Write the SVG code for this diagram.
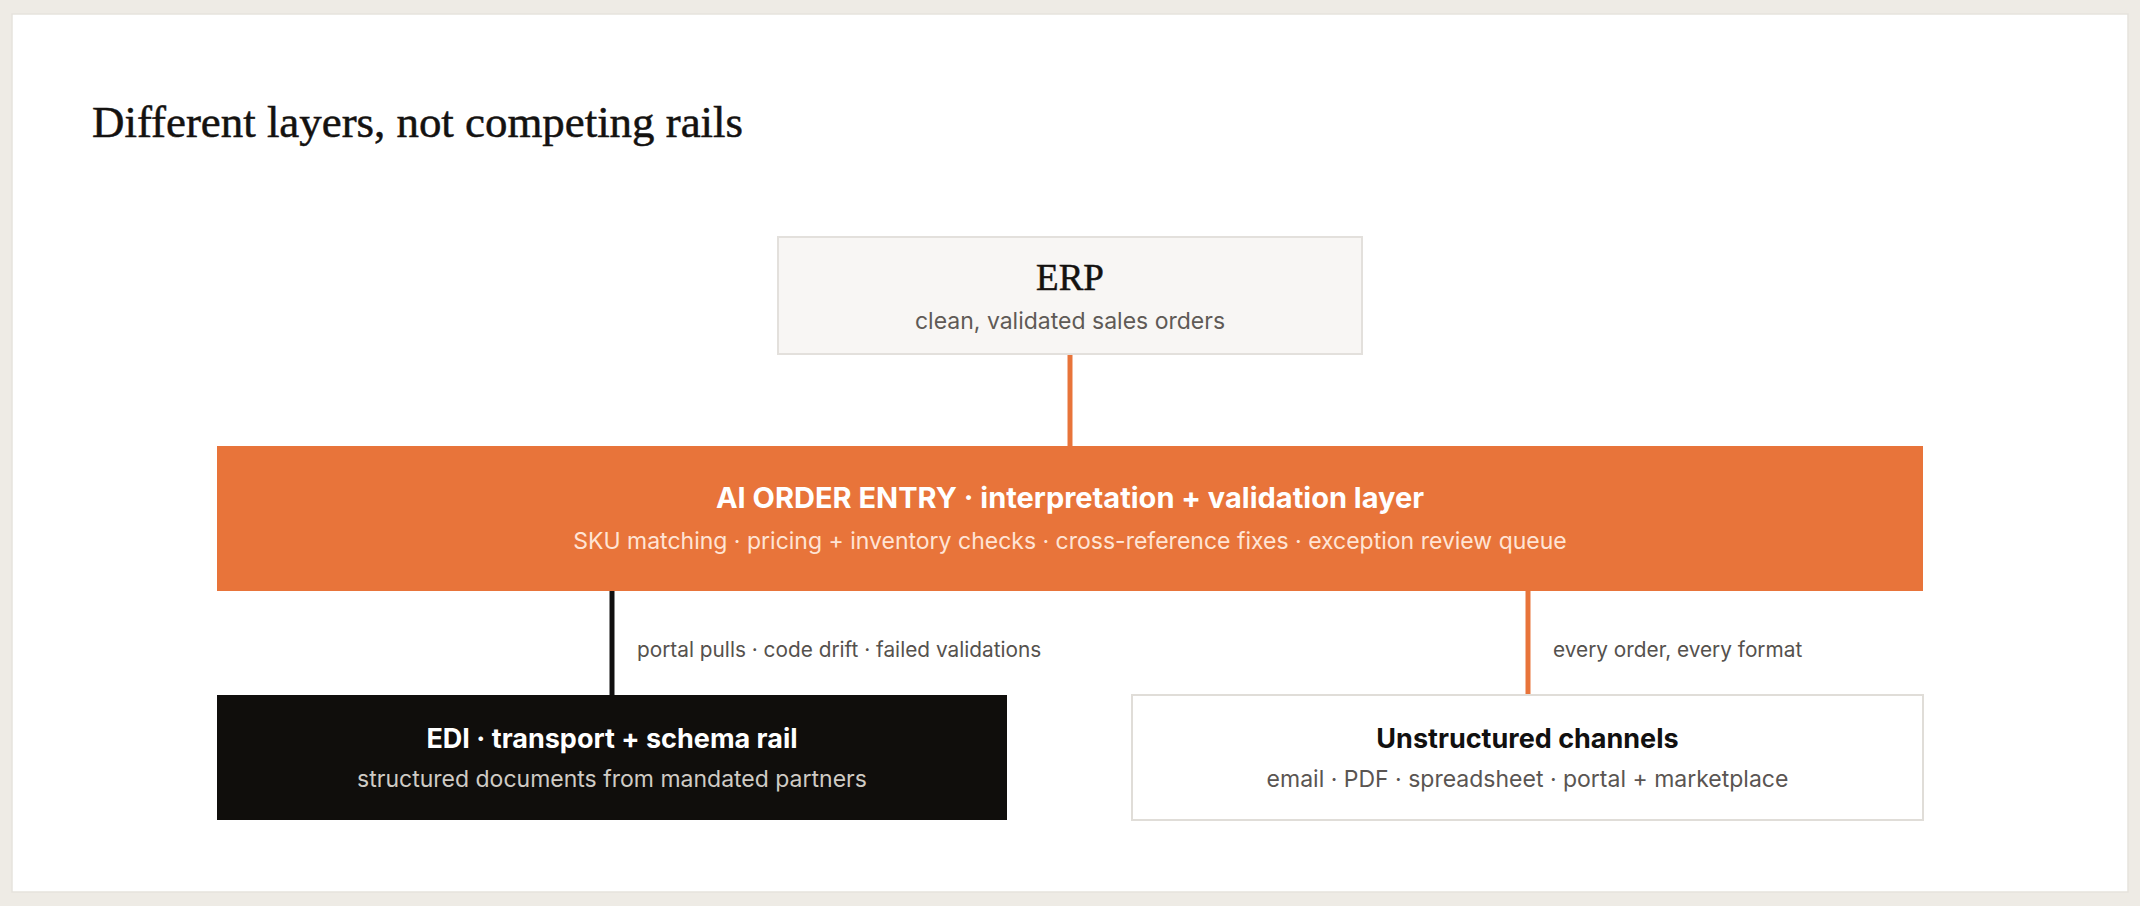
<svg xmlns="http://www.w3.org/2000/svg" width="2140" height="906" viewBox="0 0 2140 906">
  <defs>
    <style>
      .serif { font-family: "Liberation Serif", "DejaVu Serif", serif; fill: #141210; stroke: #141210; stroke-width: 0.5px; }
      .sans { font-family: Inter, "Noto Sans", "Liberation Sans", sans-serif; }
      .ttl { font-weight: 700; font-size: 27px; }
      .sub { font-size: 23px; }
      .lbl { font-size: 20.8px; fill: #55514D; }
      .mid { text-anchor: middle; }
    </style>
  </defs>
  <rect x="0" y="0" width="2140" height="906" fill="#EEEBE5"/>
  <rect x="12" y="14" width="2116" height="878" fill="#FFFFFF" stroke="#E6E3DD" stroke-width="1.5"/>
  <text class="serif" x="92" y="137" font-size="44" textLength="651" lengthAdjust="spacingAndGlyphs">Different layers, not competing rails</text>

  <g id="connectors">
    <line x1="1070" y1="354" x2="1070" y2="446" stroke="#E8743A" stroke-width="5"/>
    <line x1="612" y1="591" x2="612" y2="695" stroke="#111010" stroke-width="5"/>
    <line x1="1528" y1="591" x2="1528" y2="695" stroke="#E8743A" stroke-width="5"/>
    <text class="sans lbl" x="637" y="657">portal pulls · code drift · failed validations</text>
    <text class="sans lbl" x="1553" y="657">every order, every format</text>
  </g>

  <g id="erp">
    <rect x="778" y="237" width="584" height="117" fill="#F8F6F4" stroke="#E3E0DC" stroke-width="2"/>
    <text class="serif mid" x="1070" y="290" font-size="37">ERP</text>
    <text class="sans sub mid" x="1070" y="329" fill="#5F5A56">clean, validated sales orders</text>
  </g>

  <g id="ai-order-entry">
    <rect x="217" y="446" width="1706" height="145" fill="#E8743A"/>
    <text class="sans mid" x="1070" y="508" font-size="29" font-weight="700" fill="#FFFFFF">AI ORDER ENTRY · interpretation + validation layer</text>
    <text class="sans mid" x="1070" y="549" font-size="23" fill="#FFE4D5">SKU matching · pricing + inventory checks · cross-reference fixes · exception review queue</text>
  </g>

  <g id="edi">
    <rect x="217" y="695" width="790" height="125" fill="#100E0C"/>
    <text class="sans ttl mid" x="612" y="748" fill="#FFFFFF">EDI · transport + schema rail</text>
    <text class="sans sub mid" x="612" y="787" fill="#CFCBC5">structured documents from mandated partners</text>
  </g>

  <g id="unstructured">
    <rect x="1132" y="695" width="791" height="125" fill="#FFFFFF" stroke="#E0DDD8" stroke-width="2"/>
    <text class="sans ttl mid" x="1527.5" y="748" fill="#111010">Unstructured channels</text>
    <text class="sans sub mid" x="1527.5" y="787" fill="#5A5552">email · PDF · spreadsheet · portal + marketplace</text>
  </g>
</svg>
